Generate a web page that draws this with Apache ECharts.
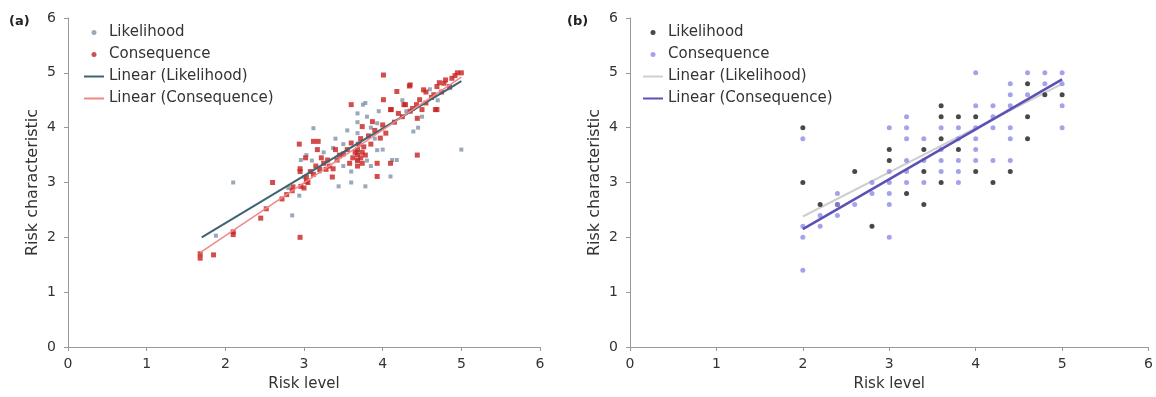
<!DOCTYPE html>
<html>
<head>
<meta charset="utf-8">
<script src="https://cdn.jsdelivr.net/npm/echarts@6/dist/echarts.min.js"></script>
<style>
  html, body { margin: 0; background: #fff; }
  #chart { width: 1156px; height: 397px; }
</style>
</head>
<body>
<div id="chart"></div>
<script>
// panel (a)
const likelihoodA = [
  [1.88, 2.03], [2.1, 3.0], [2.85, 2.4], [2.94, 2.76], [2.96, 3.41], [3.12, 3.99], [3.03, 3.5],
  [3.37, 3.63], [3.44, 2.93], [3.6, 3.2], [3.68, 4.26], [3.68, 4.1], [3.68, 3.9], [3.68, 3.7],
  [3.68, 3.55], [3.68, 3.41], [3.78, 2.93], [3.75, 4.42], [3.93, 4.08], [3.93, 3.59], [4.18, 3.41],
  [4.1, 3.11], [4.39, 3.93], [4.86, 4.72], [5.0, 3.6], [3.78, 4.45], [3.8, 4.2], [3.85, 4.0],
  [3.9, 3.8], [3.95, 4.3], [4.0, 3.6], [4.12, 3.41], [3.55, 3.95], [3.5, 3.7], [3.25, 3.55],
  [3.1, 3.4], [3.4, 3.8], [3.5, 3.3], [3.8, 3.4], [4.3, 4.3], [4.5, 4.2], [4.6, 4.7], [4.7, 4.5],
  [4.25, 4.5], [3.0, 3.1], [2.8, 2.9], [3.2, 3.2], [4.45, 4.0], [3.6, 3.0], [3.85, 3.3]
];
const consequenceA = [
  [1.68, 1.62], [1.68, 1.7], [1.85, 1.68], [2.1, 2.1], [2.1, 2.05], [2.45, 2.35], [2.52, 2.52],
  [2.6, 3.0], [2.78, 2.78], [2.95, 2.0], [2.86, 2.92], [2.96, 2.93], [3.03, 3.02], [3.03, 3.1],
  [2.95, 3.2], [3.12, 3.15], [3.2, 3.24], [3.28, 3.24], [3.37, 3.25], [2.95, 3.25], [2.94, 3.7],
  [3.12, 3.75], [3.18, 3.75], [3.17, 3.6], [3.02, 3.45], [3.3, 3.41], [3.36, 3.1], [3.42, 3.41],
  [3.5, 3.52], [3.6, 3.72], [3.6, 4.42], [3.74, 4.02], [3.87, 4.11], [3.97, 3.81], [4.04, 3.9],
  [3.93, 3.35], [3.93, 3.11], [4.1, 3.35], [4.01, 4.51], [4.11, 4.33], [4.18, 4.66], [4.2, 4.26],
  [4.27, 4.42], [4.34, 4.76], [4.35, 4.3], [4.43, 4.42], [4.44, 4.17], [4.44, 3.5], [4.5, 4.33],
  [4.52, 4.69], [4.67, 4.33], [4.69, 4.75], [4.78, 4.81], [4.01, 4.96], [4.35, 4.78], [4.72, 4.82],
  [4.8, 4.87], [4.55, 4.65], [4.47, 4.51], [4.65, 4.6], [4.1, 4.33], [4.29, 4.42], [4.69, 4.33],
  [4.88, 4.9], [4.95, 5.0], [5.0, 5.0], [4.92, 4.95], [3.68, 3.3], [3.68, 3.4], [3.68, 3.5],
  [3.68, 3.6], [3.7, 3.7], [3.72, 3.45], [3.74, 3.55], [3.74, 3.35], [3.76, 3.65], [3.78, 3.5],
  [3.72, 3.8], [3.65, 3.55], [3.62, 3.45], [3.55, 3.6], [3.58, 3.35], [3.25, 3.35], [3.32, 3.3],
  [3.45, 3.5], [3.15, 3.3], [3.08, 3.2], [3.22, 3.45], [3.4, 3.6], [3.85, 3.7], [3.9, 3.95],
  [3.82, 3.85], [4.0, 4.05], [4.15, 4.1], [4.25, 4.2], [4.38, 4.35], [4.55, 4.45], [4.62, 4.55],
  [4.75, 4.65], [4.85, 4.75], [3.05, 3.0], [2.85, 2.85], [2.72, 2.7], [3.0, 2.9]
];
const trendLikelihoodA = [[1.7, 2.0], [5.0, 4.85]];
const trendConsequenceA = [[1.68, 1.72], [5.0, 4.92]];

// panel (b)
const likelihoodB = [
  [2.0, 4.0], [2.0, 3.0], [2.2, 2.6], [2.4, 2.6], [2.6, 3.2], [2.8, 2.2], [3.0, 3.6], [3.0, 3.4],
  [3.2, 2.8], [3.4, 3.6], [3.4, 3.2], [3.4, 2.6], [3.6, 4.4], [3.6, 4.2], [3.6, 3.8], [3.6, 3.0],
  [3.8, 4.2], [3.8, 3.6], [4.0, 4.2], [4.0, 3.2], [4.2, 3.0], [4.4, 3.2], [4.6, 4.8], [4.6, 4.2],
  [4.6, 3.8], [4.8, 4.6], [5.0, 4.6]
];
const consequenceB = [
  [2.0, 3.8], [2.0, 2.2], [2.0, 2.0], [2.0, 1.4], [2.2, 2.4], [2.2, 2.2], [2.4, 2.8], [2.4, 2.6],
  [2.4, 2.4], [2.6, 2.6], [2.8, 3.0], [2.8, 2.8], [3.0, 4.0], [3.0, 3.2], [3.0, 3.0], [3.0, 2.8],
  [3.0, 2.6], [3.0, 2.0], [3.2, 4.2], [3.2, 4.0], [3.2, 3.8], [3.2, 3.4], [3.2, 3.2], [3.2, 3.0],
  [3.4, 3.8], [3.4, 3.4], [3.4, 3.0], [3.6, 4.0], [3.6, 3.6], [3.6, 3.4], [3.6, 3.2], [3.8, 4.0],
  [3.8, 3.8], [3.8, 3.4], [3.8, 3.2], [3.8, 3.0], [4.0, 5.0], [4.0, 4.4], [4.0, 4.0], [4.0, 3.8],
  [4.0, 3.6], [4.0, 3.4], [4.2, 4.4], [4.2, 4.2], [4.2, 4.0], [4.2, 3.4], [4.4, 4.8], [4.4, 4.6],
  [4.4, 4.4], [4.4, 4.0], [4.4, 3.8], [4.4, 3.4], [4.6, 5.0], [4.6, 4.6], [4.8, 5.0], [4.8, 4.8],
  [5.0, 5.0], [5.0, 4.8], [5.0, 4.4], [5.0, 4.0]
];
const trendLikelihoodB = [[2.0, 2.38], [5.0, 4.8]];
const trendConsequenceB = [[2.0, 2.15], [5.0, 4.88]];

const axisTicks = [0, 1, 2, 3, 4, 5, 6];
const legendLabels = ['Likelihood', 'Consequence', 'Linear (Likelihood)', 'Linear (Consequence)'];

const font = 'DejaVu Sans';
const textColor = '#333';
const axisColor = '#999';
const lineIcon = 'path://M0,0H20V2H0Z';

function valueAxis(gridIndex, name, vertical) {
  return {
    type: 'value',
    gridIndex,
    min: axisTicks[0],
    max: axisTicks[axisTicks.length - 1],
    interval: 1,
    name,
    nameLocation: 'middle',
    nameGap: vertical ? 27 : 30,
    nameTextStyle: { fontFamily: font, fontSize: vertical ? 16 : 15, color: textColor },
    axisLine: { show: true, lineStyle: { color: axisColor, width: 1 } },
    axisTick: { show: true, length: 4, lineStyle: { color: axisColor } },
    axisLabel: { fontFamily: font, fontSize: 14, color: textColor, margin: vertical ? 12 : 10 },
    splitLine: { show: false }
  };
}

// series names in (b) carry a '#b' tag so the two legends stay apart
function legendFor(tag, left) {
  return {
    orient: 'vertical',
    left,
    top: 20,
    itemWidth: 20,
    itemHeight: 5,
    itemGap: 7,
    symbolKeepAspect: true,
    textStyle: { fontFamily: font, fontSize: 15, color: textColor },
    formatter: n => n.replace(tag, ''),
    data: legendLabels.map((l, i) => ({ name: l + tag, icon: i < 2 ? 'circle' : lineIcon }))
  };
}

const chart = echarts.init(document.getElementById('chart'));
chart.setOption({
  backgroundColor: '#fff',
  animation: false,
  title: [
    { text: '(a)', left: 4, top: 10, textStyle: { fontFamily: font, fontSize: 13, fontWeight: 'bold', color: '#222' } },
    { text: '(b)', left: 562, top: 10, textStyle: { fontFamily: font, fontSize: 13, fontWeight: 'bold', color: '#222' } }
  ],
  legend: [legendFor('', 79), legendFor('#b', 638)],
  grid: [
    { left: 68, top: 18, width: 472, height: 329 },
    { left: 630, top: 18, width: 520, height: 329 }
  ],
  xAxis: [valueAxis(0, 'Risk level', false), valueAxis(1, 'Risk level', false)],
  yAxis: [valueAxis(0, 'Risk characteristic', true), valueAxis(1, 'Risk characteristic', true)],
  series: [
    {
      name: 'Likelihood', type: 'scatter', xAxisIndex: 0, yAxisIndex: 0,
      data: likelihoodA, symbol: 'rect', symbolSize: 4,
      itemStyle: { color: '#7f94a8' }
    },
    {
      name: 'Consequence', type: 'scatter', xAxisIndex: 0, yAxisIndex: 0,
      data: consequenceA, symbol: 'rect', symbolSize: 5,
      itemStyle: { color: '#c82020' }
    },
    {
      name: 'Linear (Likelihood)', type: 'line', xAxisIndex: 0, yAxisIndex: 0,
      data: trendLikelihoodA, symbol: 'none',
      lineStyle: { color: '#3d6470', width: 2 }, itemStyle: { color: '#3d6470' }
    },
    {
      name: 'Linear (Consequence)', type: 'line', xAxisIndex: 0, yAxisIndex: 0,
      data: trendConsequenceA, symbol: 'none',
      lineStyle: { color: '#f08888', width: 1.5 }, itemStyle: { color: '#f08888' }
    },
    {
      name: 'Likelihood#b', type: 'scatter', xAxisIndex: 1, yAxisIndex: 1,
      data: likelihoodB, symbol: 'circle', symbolSize: 5,
      itemStyle: { color: '#1a1a1a' }
    },
    {
      name: 'Consequence#b', type: 'scatter', xAxisIndex: 1, yAxisIndex: 1,
      data: consequenceB, symbol: 'circle', symbolSize: 5,
      itemStyle: { color: '#8c8ce6' }
    },
    {
      name: 'Linear (Likelihood)#b', type: 'line', xAxisIndex: 1, yAxisIndex: 1,
      data: trendLikelihoodB, symbol: 'none', z: 1,
      lineStyle: { color: '#cfcfcf', width: 2 }, itemStyle: { color: '#cfcfcf' }
    },
    {
      name: 'Linear (Consequence)#b', type: 'line', xAxisIndex: 1, yAxisIndex: 1,
      data: trendConsequenceB, symbol: 'none',
      lineStyle: { color: '#5b50b8', width: 2.5 }, itemStyle: { color: '#5b50b8' }
    }
  ]
});
</script>
</body>
</html>
